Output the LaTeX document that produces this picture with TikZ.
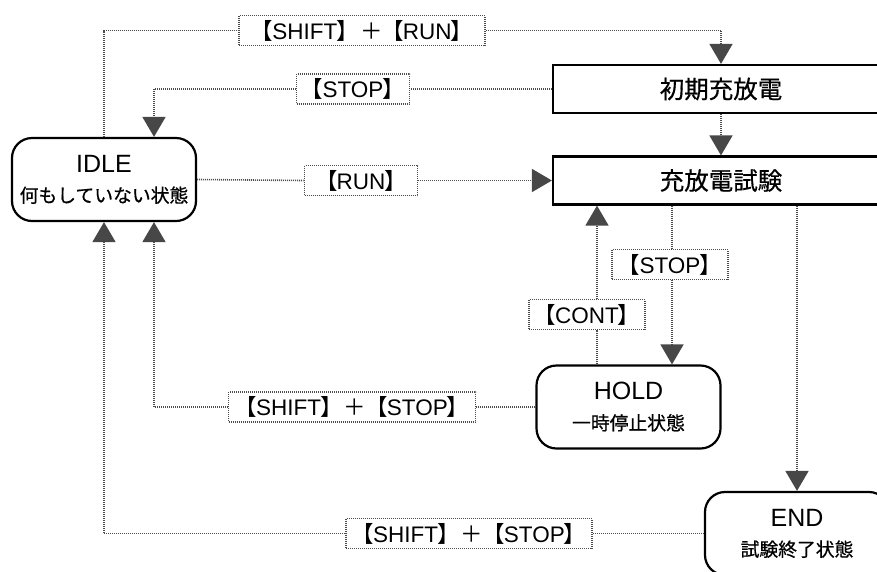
\documentclass[tikz,border=0pt]{standalone}
\usepackage{fontspec}
\setmainfont{Liberation Sans}
\newfontfamily\jp[FakeBold=0.6]{Noto Sans CJK JP}
\newfontfamily\jpl{Noto Sans CJK JP}
\usetikzlibrary{arrows.meta,calc}
\newcommand{\fsz}[2]{\fontsize{#1}{#2}\selectfont}
\newcommand{\lbk}{{\jpl\kern-0.4em【\kern-0.04em}}
\newcommand{\rbk}{{\jpl\kern-0.04em】\kern-0.4em}}
\newcommand{\plusk}{{\jpl\kern0.45em＋\kern0.35em}}
\newcommand{\twolines}[2]{\parbox{184pt}{\centering\fsz{25}{30}#1\par\jp\fsz{18.8}{30}#2\par}}
\begin{document}
\begin{tikzpicture}[x=1pt,y=-1pt,
  statebox/.style={draw, line width=2.2pt, rounded corners=20pt, minimum width=184pt, minimum height=83pt, inner sep=0pt, fill=white},
  procbox/.style={draw, line width=2.2pt, minimum width=336pt, minimum height=48pt, inner sep=0pt, font=\jp\fsz{24.5}{28}},
  lbl/.style={draw=black!70, dash pattern=on 1pt off 1pt, line width=1.6pt, fill=white, minimum height=30pt, inner sep=0pt, font=\fsz{22.5}{24}},
  conn/.style={draw=black!70, dash pattern=on 1pt off 1pt, line width=1.6pt},
  arr/.style={conn, -{Triangle[length=20pt,width=23pt,fill=black!72,color=black!72]}}
]
\useasboundingbox (0,0) rectangle (877,571);
\clip (0,0) rectangle (877,571);

% state nodes
\node[statebox] (idle) at (104,179.5) {\twolines{IDLE}{何もしていない状態}};
\node[statebox] (hold) at (628.5,407) {\twolines{HOLD}{一時停止状態}};
\node[statebox] (end) at (797,533.5) {\twolines{END}{試験終了状態}};
\node[procbox] (shoki) at (721,89) {初期充放電};
\node[procbox] (test) at (721,180.5) {充放電試験};

% labels
\node[lbl, minimum width=246pt] (l1) at (362,30.5) {\lbk SHIFT\rbk\plusk\lbk RUN\rbk};
\node[lbl, minimum width=113pt] (l2) at (353,89) {\lbk STOP\rbk};
\node[lbl, minimum width=113pt] (l3) at (361,180.5) {\lbk RUN\rbk};
\node[lbl, minimum width=116pt] (l4) at (670,264.5) {\lbk STOP\rbk};
\node[lbl, minimum width=116pt] (l5) at (587,314.5) {\lbk CONT\rbk};
\node[lbl, minimum width=247pt] (l6) at (352,407) {\lbk SHIFT\rbk\plusk\lbk STOP\rbk};
\node[lbl, minimum width=246pt] (l7) at (469,533.5) {\lbk SHIFT\rbk\plusk\lbk STOP\rbk};

% helper coordinates on borders
\coordinate (idleNR) at ([xshift=50pt]idle.north);
\coordinate (idleSR) at ([xshift=50pt]idle.south);
\coordinate (testS1) at ([xshift=-124pt]test.south);
\coordinate (testS2) at ([xshift=-49pt]test.south);
\coordinate (testS3) at ([xshift=76pt]test.south);
\coordinate (holdN1) at ([xshift=-31.5pt]hold.north);
\coordinate (holdN2) at ([xshift=43.5pt]hold.north);

% connectors
\draw[conn] (idle.north) |- (l1.west);
\draw[arr] (l1.east) -| (shoki.north);

\draw[conn] (shoki.west) -- (l2.east);
\draw[arr] (l2.west) -| (idleNR);

\draw[conn] (idle.east) -- (l3.west);
\draw[arr] (l3.east) -- (test.west);

\draw[arr] (shoki.south) -- (test.north);

\draw[conn] (testS2) -- (testS2 |- l4.north);
\draw[arr] (testS2 |- l4.south) -- (holdN2);

\draw[conn] (holdN1) -- (holdN1 |- l5.south);
\draw[arr] (holdN1 |- l5.north) -- (testS1);

\draw[arr] (testS3) -- (testS3 |- end.north);

\draw[conn] (hold.west) -- (l6.east);
\draw[arr] (l6.west) -| (idleSR);

\draw[conn] (end.west) -- (l7.east);
\draw[arr] (l7.west) -| (idle.south);
\end{tikzpicture}
\end{document}
